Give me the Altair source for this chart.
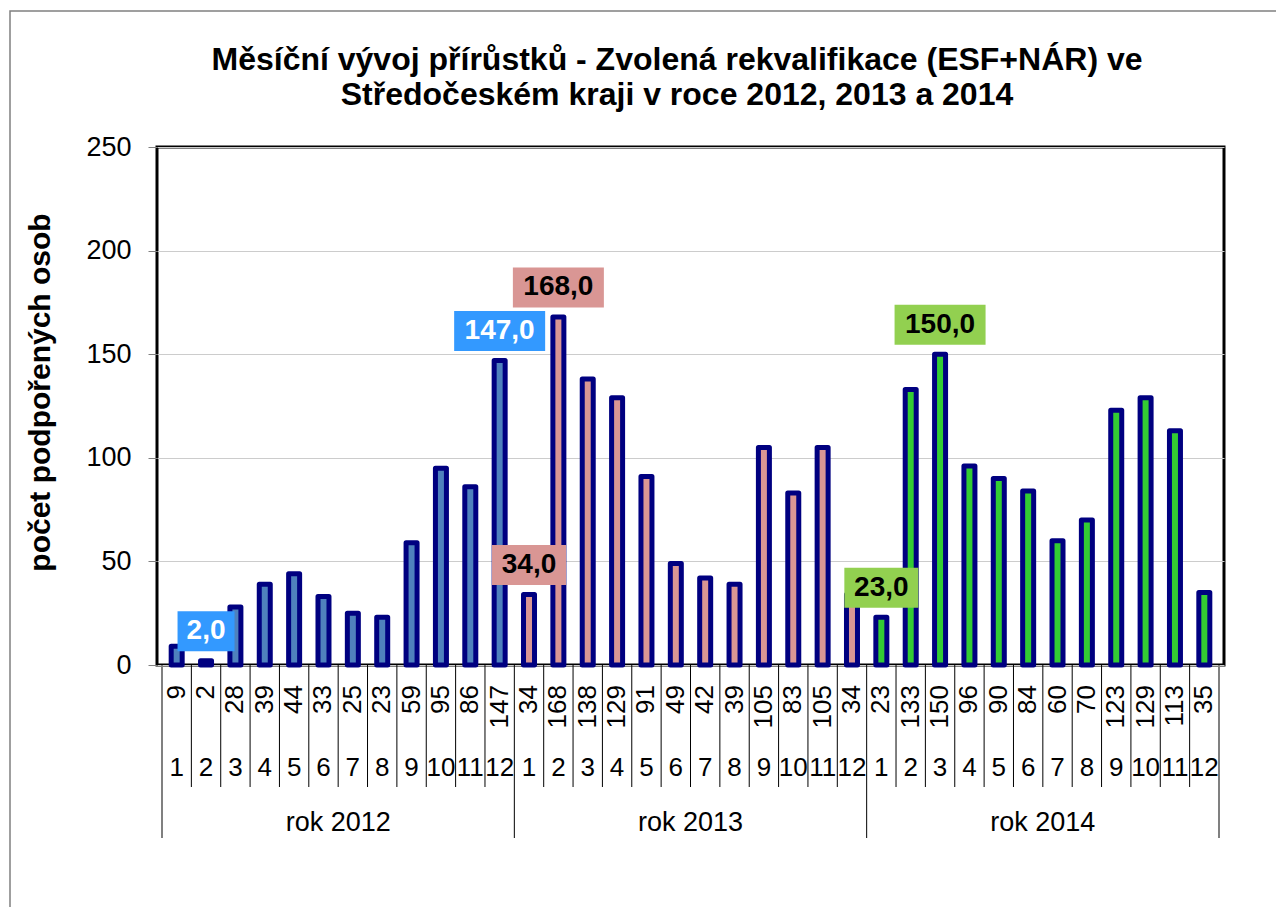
import altair as alt
import pandas as pd

FONT = "Liberation Sans"

title_lines = [
    "Měsíční vývoj přírůstků - Zvolená rekvalifikace (ESF+NÁR) ve",
    "Středočeském kraji v roce 2012, 2013 a 2014",
]
y_title = "počet podpořených osob"
years = ["rok 2012", "rok 2013", "rok 2014"]
months = [1, 2, 3, 4, 5, 6, 7, 8, 9, 10, 11, 12]
values_2012 = [9, 2, 28, 39, 44, 33, 25, 23, 59, 95, 86, 147]
values_2013 = [34, 168, 138, 129, 91, 49, 42, 39, 105, 83, 105, 34]
values_2014 = [23, 133, 150, 96, 90, 84, 60, 70, 123, 129, 113, 35]
y_ticks = [0, 50, 100, 150, 200, 250]

bar_colors = ["#4F81BD", "#D99694", "#33CC33"]
box_colors = ["#3399FF", "#D99694", "#92D050"]
box_text_colors = ["white", "black", "black"]

series = [values_2012, values_2013, values_2014]
n_months = len(months)
n_total = n_months * len(years)

rows = []
for yi, (yr, vals) in enumerate(zip(years, series)):
    for mi, (m, v) in enumerate(zip(months, vals)):
        rows.append({"year": yr, "month": str(m), "value": v, "vlabel": str(v),
                     "pos": yi * n_months + mi + 0.5})
df = pd.DataFrame(rows)

# min / max label per year
label_rows = []
for yi, (yr, vals) in enumerate(zip(years, series)):
    for idx in [vals.index(min(vals)), vals.index(max(vals))]:
        v = vals[idx]
        label_rows.append({"year": yr, "yi": yi, "value": v,
                           "text": f"{v},0", "pos": yi * n_months + idx + 0.5})

bounds = pd.DataFrame({"b": list(range(0, n_total + 1))})
bounds["kind"] = ["outer" if b in (0, n_total) else ("year" if b % n_months == 0 else "month")
                  for b in bounds["b"]]
year_df = pd.DataFrame({"year": years,
                        "pos": [yi * n_months + n_months / 2 for yi in range(len(years))]})

xenc = alt.X("pos:Q", scale=alt.Scale(domain=[0, n_total], nice=False, zero=False), axis=None)

frame = alt.Chart(pd.DataFrame({"a": [0]})).mark_rect(
    fillOpacity=0, stroke="#808080", strokeWidth=1.5
).encode(x=alt.value(-147), x2=alt.value(1300), y=alt.value(-136), y2=alt.value(900))

title1 = alt.Chart(pd.DataFrame({"t": [title_lines[0]]})).mark_text(
    font=FONT, fontSize=32, fontWeight="bold", color="black",
    align="center", baseline="alphabetic"
).encode(x=alt.value(520), y=alt.value(-77), text="t:N")
title2 = alt.Chart(pd.DataFrame({"t": [title_lines[1]]})).mark_text(
    font=FONT, fontSize=32, fontWeight="bold", color="black",
    align="center", baseline="alphabetic"
).encode(x=alt.value(520), y=alt.value(-42), text="t:N")

bars = alt.Chart(df).mark_bar(
    size=11, stroke="#000080", strokeWidth=5, strokeJoin="round", orient="vertical"
).encode(
    x=xenc,
    y=alt.Y("value:Q", scale=alt.Scale(domain=[0, 250], nice=False),
            axis=alt.Axis(values=y_ticks, grid=True, gridColor="#cccccc", gridWidth=1,
                          tickColor="#808080", tickSize=9, tickWidth=1,
                          labelFont=FONT, labelFontSize=27, labelColor="black",
                          labelPadding=17, domain=False,
                          title=y_title, titleFont=FONT, titleFontSize=30,
                          titleFontWeight="bold", titleColor="black",
                          titleX=-117, titleY=245, titleAngle=270,
                          titleAlign="center", titleBaseline="middle")),
    color=alt.Color("year:N", scale=alt.Scale(domain=years, range=bar_colors), legend=None),
)

value_text = alt.Chart(df).mark_text(
    angle=270, align="right", baseline="middle", font=FONT, fontSize=26, color="black"
).encode(x=xenc, y=alt.value(538), text="vlabel:N")

month_text = alt.Chart(df).mark_text(
    align="center", baseline="middle", font=FONT, fontSize=26, color="black"
).encode(x=xenc, y=alt.value(621), text="month:N")

year_text = alt.Chart(year_df).mark_text(
    align="center", baseline="middle", font=FONT, fontSize=27, color="black"
).encode(x=xenc, y=alt.value(676), text="year:N")

bx = alt.X("b:Q", scale=alt.Scale(domain=[0, n_total], nice=False, zero=False), axis=None)
sep_month = alt.Chart(bounds).transform_filter("datum.kind == 'month'").mark_rule(
    color="black", strokeWidth=1
).encode(x=bx, y=alt.value(518), y2=alt.value(640))
sep_year = alt.Chart(bounds).transform_filter("datum.kind == 'year'").mark_rule(
    color="black", strokeWidth=1
).encode(x=bx, y=alt.value(518), y2=alt.value(691))
sep_outer = alt.Chart(bounds).transform_filter("datum.kind == 'outer'").mark_rule(
    color="#808080", strokeWidth=2
).encode(x=bx, y=alt.value(518), y2=alt.value(691))

layers = [frame, title1, title2, bars, value_text, month_text, year_text,
          sep_month, sep_year, sep_outer]

for lr in label_rows:
    w = 17 * len(lr["text"]) + 6
    h = 40.0 / w
    path = f"M-1,-{h:.4f}H1V{h:.4f}H-1Z"
    ldf = pd.DataFrame([lr])
    box = alt.Chart(ldf).mark_point(
        shape=path, size=w * w, filled=True, color=box_colors[lr["yi"]],
        opacity=1, strokeWidth=0, yOffset=-29.5
    ).encode(x=xenc, y=alt.Y("value:Q"))
    txt = alt.Chart(ldf).mark_text(
        dy=-29.5, font=FONT, fontSize=28, fontWeight="bold",
        color=box_text_colors[lr["yi"]], baseline="middle", align="center"
    ).encode(x=xenc, y=alt.Y("value:Q"), text="text:N")
    layers += [box, txt]

chart = alt.layer(*layers).properties(
    width=1067, height=518,
    autosize=alt.AutoSizeParams(type="none"),
    padding={"left": 149, "top": 139, "right": 52, "bottom": 242},
    background="white",
).configure_view(stroke="black", strokeWidth=3)

chart.save("out.html", embed_options={"renderer": "svg", "actions": False})
